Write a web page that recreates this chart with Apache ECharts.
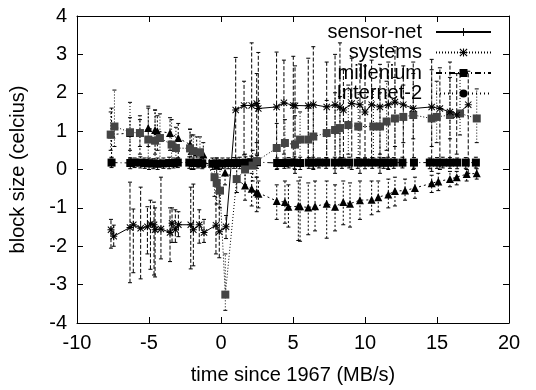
<!DOCTYPE html>
<html><head><meta charset="utf-8">
<script src="https://cdn.jsdelivr.net/npm/echarts@6/dist/echarts.min.js"></script>
<style>html,body{margin:0;padding:0;background:#fff}#c{width:536px;height:390px}</style>
</head><body><div id="c"></div>
<script>
// axis ranges
const xMin = -10, xMax = 20, xStep = 5;
const yMin = -4, yMax = 4, yStep = 1;
const seriesNames = ['sensor-net', 'systems', 'millenium', 'Internet-2'];

// [x, y, low, high]
const sensorNet = [
[-7.64,-1.57,-2.05,-1.30],[-7.45,-1.74,-2.00,-1.45],[-6.32,-1.51,-2.95,-0.33],[-6.09,-1.44,-2.69,-1.03],
[-5.58,-1.53,-2.85,-0.46],[-5.11,-1.49,-2.20,-0.97],[-4.90,-1.42,-2.60,-0.80],[-4.65,-1.44,-2.75,-0.85],
[-4.58,-1.57,-2.80,-1.00],[-4.17,-1.55,-2.33,-0.20],[-3.54,-1.64,-2.40,-1.00],[-3.40,-1.40,-1.90,-1.00],
[-3.17,-1.57,-1.90,-1.05],[-2.96,-1.44,-1.75,-1.10],[-2.10,-1.44,-2.59,-0.46],[-1.92,-1.57,-2.51,-0.38],
[-1.51,-1.44,-1.92,-1.05],[-1.18,-1.64,-1.90,-1.30],[-0.35,-1.45,-2.20,-0.38],[-0.12,-1.62,-2.30,-0.60],
[0.35,-1.49,-1.80,-1.20],[1.02,1.55,0.13,2.92],[1.60,1.67,0.38,2.30],[2.13,1.67,0.13,3.30],
[2.48,1.72,0.40,2.50],[2.59,1.59,0.20,3.05],[3.86,1.63,0.13,3.06],[4.37,1.74,0.40,2.85],
[5.02,1.67,0.20,2.95],[5.14,1.66,-0.10,2.70],[6.06,1.66,0.10,2.90],[6.41,1.69,0.00,3.20],
[7.34,1.63,0.20,2.80],[7.92,1.69,-0.10,3.00],[8.26,1.62,0.10,3.30],[8.50,1.55,0.30,2.60],
[9.08,1.72,0.00,2.90],[9.65,1.69,-0.10,2.75],[10.00,1.50,0.30,2.70],[10.46,1.69,0.10,2.85],
[11.04,1.63,-0.10,2.74],[11.62,1.69,0.00,2.80],[12.08,1.76,0.20,3.20],[12.66,1.69,0.10,2.70],
[13.35,1.59,0.00,2.80],[14.63,1.63,-0.05,2.87],[15.20,1.59,0.00,2.65],[15.90,1.50,0.10,2.80],
[16.37,1.42,0.40,2.50],[17.17,1.69,-0.10,2.56]
];
const systems = [
[-7.66,0.91,0.50,1.50],[-7.40,1.12,0.60,2.07],[-6.32,0.97,0.30,1.75],[-5.63,0.95,0.60,1.40],
[-5.05,0.78,0.10,1.60],[-4.58,0.75,0.20,1.55],[-4.24,0.82,0.10,1.45],[-3.43,0.65,0.10,1.30],
[-3.13,0.56,0.20,1.10],[-2.15,0.55,0.10,1.05],[-1.92,0.48,0.00,0.90],[-1.46,0.45,0.10,0.85],
[-0.45,-0.20,-0.70,0.20],[-0.30,-0.35,-0.90,0.10],[-0.07,-0.55,-1.00,0.00],[0.30,-3.26,-3.67,-2.20],
[1.09,-0.25,-0.60,0.30],[1.67,0.00,-0.40,0.40],[2.20,0.10,-0.30,0.50],[2.48,0.22,-0.20,0.70],
[3.87,0.56,0.00,1.20],[4.44,0.69,0.10,1.30],[5.14,0.65,0.00,1.40],[5.49,0.78,0.20,1.50],
[6.06,0.78,0.10,1.60],[6.41,0.86,0.20,1.70],[7.34,0.95,0.30,1.80],[7.92,1.03,0.20,2.00],
[8.26,1.08,0.30,1.90],[8.84,1.16,0.40,2.20],[9.53,1.12,0.30,2.00],[10.58,1.12,0.30,2.10],
[11.04,1.12,0.40,2.00],[11.50,1.25,0.50,2.30],[12.08,1.33,0.60,2.40],[12.66,1.37,0.70,2.20],
[13.35,1.42,0.80,2.50],[14.63,1.33,0.60,2.60],[14.98,1.37,0.70,2.30],[15.90,1.42,0.80,2.40],
[16.60,1.46,0.90,2.50],[17.76,1.33,0.70,2.10]
];
const millenium = [
[-7.60,0.18,0.05,0.32],[-6.30,0.17,0.02,0.30],[-6.00,0.18,0.05,0.30],[-5.60,0.18,0.04,0.33],
[-5.30,0.17,0.03,0.30],[-5.00,0.16,0.00,0.30],[-4.70,0.16,0.02,0.28],[-4.40,0.15,0.00,0.30],
[-4.00,0.16,0.03,0.30],[-3.60,0.17,0.02,0.32],[-3.30,0.17,0.04,0.30],[-3.00,0.18,0.05,0.30],
[-2.20,0.18,0.03,0.33],[-1.90,0.17,0.02,0.30],[-1.60,0.17,0.04,0.30],[-1.30,0.16,0.02,0.28],
[-0.60,0.15,0.00,0.30],[-0.30,0.16,0.02,0.30],[0.10,0.16,0.03,0.30],[0.50,0.17,0.02,0.30],
[0.90,0.17,0.03,0.31],[1.30,0.17,0.02,0.32],[1.70,0.18,0.03,0.33],[2.10,0.19,0.04,0.35],
[2.50,0.19,0.03,0.36],[3.90,0.17,0.02,0.30],[4.40,0.17,0.03,0.30],[4.70,0.18,0.04,0.31],
[5.10,0.18,0.02,0.33],[5.50,0.17,0.00,0.32],[6.10,0.18,0.03,0.31],[6.40,0.18,0.03,0.32],
[6.80,0.18,0.04,0.30],[7.30,0.18,0.03,0.31],[7.90,0.18,0.02,0.32],[8.40,0.18,0.03,0.31],
[8.90,0.18,0.04,0.32],[9.50,0.18,0.03,0.31],[10.00,0.18,0.02,0.30],[10.50,0.18,0.03,0.31],
[11.00,0.18,0.04,0.32],[11.30,0.18,0.03,0.31],[11.60,0.18,0.02,0.32],[12.00,0.18,0.03,0.31],
[12.60,0.18,0.04,0.32],[13.40,0.18,0.03,0.31],[14.50,0.18,0.02,0.30],[15.00,0.18,0.03,0.31],
[15.40,0.18,0.04,0.32],[15.90,0.18,0.03,0.31],[16.40,0.18,0.02,0.30],[17.00,0.18,0.03,0.31],
[17.70,0.18,0.04,0.32]
];
const internet2 = [
[-7.60,0.91,0.30,1.60],[-6.32,0.95,0.50,1.35],[-5.63,0.95,0.40,1.30],[-5.05,1.08,0.60,1.65],
[-4.58,1.03,0.40,1.55],[-4.42,1.00,0.50,1.40],[-3.54,0.95,0.50,1.35],[-2.97,0.82,0.30,1.20],
[-2.15,0.65,0.20,1.05],[-2.04,0.48,0.00,0.90],[-1.69,0.44,0.10,0.85],[-1.23,0.39,0.05,0.70],
[-0.30,0.10,-0.20,0.30],[0.28,-0.08,-0.40,0.20],[1.09,-0.25,-0.60,0.10],[1.67,-0.42,-0.80,-0.05],
[2.13,-0.50,-0.95,-0.10],[2.48,-0.59,-1.10,-0.20],[2.60,-0.63,-1.00,-0.30],[3.87,-0.82,-1.30,-0.40],
[4.44,-0.85,-1.40,-0.30],[4.68,-0.97,-1.50,-0.40],[5.37,-0.96,-1.85,-0.30],[5.49,-0.96,-1.87,-0.20],
[6.06,-0.99,-1.70,-0.35],[6.53,-0.96,-1.60,-0.30],[7.34,-0.89,-1.79,-0.30],[7.92,-0.97,-1.60,-0.40],
[8.49,-0.85,-1.44,-0.30],[8.96,-0.89,-1.50,-0.35],[9.65,-0.80,-1.30,-0.30],[10.46,-0.79,-1.18,-0.30],
[10.92,-0.72,-1.10,-0.30],[11.62,-0.65,-1.00,-0.25],[12.08,-0.56,-0.95,-0.20],[12.78,-0.55,-0.80,-0.25],
[13.47,-0.48,-0.75,-0.20],[14.63,-0.36,-0.60,-0.15],[15.09,-0.31,-0.55,-0.10],[15.90,-0.25,-0.45,-0.05],
[16.37,-0.20,-0.40,-0.05],[17.06,-0.12,-0.30,0.00],[17.76,-0.10,-0.25,0.02]
];

const FONT = "'Liberation Sans', Arial, Helvetica, sans-serif";
const plusPath = 'path://M0,4.4H10V5.6H0Z M4.4,0H5.6V10H4.4Z';
const starPath = 'path://M0,4.3H10V5.7H0Z M4.3,0H5.7V10H4.3Z M1,0L10,9L9,10L0,1Z M9,0L10,1L1,10L0,9Z';

function errBars(data, dash, color) {
  return {
    type: 'custom', data: data, z: 2, silent: true, clip: false,
    encode: { x: 0, y: [2, 3] },
    renderItem: function (params, api) {
      const x = api.value(0), lo = api.value(2), hi = api.value(3);
      const a = api.coord([x, lo]), b = api.coord([x, hi]);
      const cap = 2;
      return { type: 'group', children: [
        { type: 'line', shape: { x1: a[0], y1: a[1], x2: b[0], y2: b[1] }, style: { stroke: color, lineWidth: 1, lineDash: dash } },
        { type: 'line', shape: { x1: a[0] - cap, y1: a[1], x2: a[0] + cap, y2: a[1] }, style: { stroke: color, lineWidth: 1 } },
        { type: 'line', shape: { x1: b[0] - cap, y1: b[1], x2: b[0] + cap, y2: b[1] }, style: { stroke: color, lineWidth: 1 } }
      ]};
    }
  };
}
function lineSeries(name, data, symbol, size, dash, color) {
  return {
    type: 'line', name: name, data: data.map(d => [d[0], d[1]]), z: 3,
    symbol: symbol, symbolSize: size, showSymbol: true, showAllSymbol: true,
    lineStyle: { color: '#000', width: 1, type: dash },
    itemStyle: { color: color, borderWidth: 0 },
    emphasis: { disabled: true }
  };
}
function legendSeries(name, symbol, dash) {
  return {
    type: 'line', name: name, data: [], symbol: symbol, symbolSize: 8,
    lineStyle: { color: '#000', width: 1, type: dash },
    itemStyle: { color: '#000' }
  };
}

const axisCommon = {
  axisLine: { show: true, onZero: false, lineStyle: { color: '#000', width: 1 } },
  axisTick: { show: true, inside: true, length: 6, lineStyle: { color: '#000', width: 1 } },
  splitLine: { show: false }
};

const chart = echarts.init(document.getElementById('c'), null, { renderer: 'canvas' });
chart.setOption({
  animation: false,
  backgroundColor: '#fff',
  textStyle: { fontFamily: FONT },
  grid: { left: 77, right: 27, top: 16, bottom: 62 },
  legend: {
    data: seriesNames, orient: 'vertical', align: 'right',
    right: 39, top: 17, itemWidth: 55, itemHeight: 10, itemGap: 0.5,
    selectedMode: false,
    textStyle: { fontSize: 20, color: '#000', fontFamily: FONT, lineHeight: 20, padding: [0, 9, 0, 0] }
  },
  xAxis: [
    Object.assign({ type: 'value', min: xMin, max: xMax, interval: xStep, position: 'bottom',
      name: 'time since 1967 (MB/s)', nameLocation: 'middle', nameGap: 42,
      nameTextStyle: { fontSize: 20, color: '#000', fontFamily: FONT },
      axisLabel: { fontSize: 20, color: '#000', margin: 10, fontFamily: FONT } }, axisCommon),
    Object.assign({ type: 'value', min: xMin, max: xMax, interval: xStep, position: 'top',
      axisLabel: { show: false } }, axisCommon)
  ],
  yAxis: [
    Object.assign({ type: 'value', min: yMin, max: yMax, interval: yStep, position: 'left',
      name: 'block size (celcius)', nameLocation: 'middle', nameGap: 49, nameRotate: 90,
      nameTextStyle: { fontSize: 20, color: '#000', fontFamily: FONT },
      axisLabel: { fontSize: 20, color: '#000', margin: 10, fontFamily: FONT } }, axisCommon),
    Object.assign({ type: 'value', min: yMin, max: yMax, interval: yStep, position: 'right',
      axisLabel: { show: false } }, axisCommon)
  ],
  series: [
    errBars(millenium, [5, 2, 1, 2], '#000'),
    errBars(internet2, [2, 2], '#000'),
    errBars(systems, [1, 2], '#000'),
    errBars(sensorNet, [4, 2], '#000'),
    lineSeries('millenium data', millenium, 'rect', 8, [6, 3, 1, 3], '#000'),
    lineSeries('Internet-2 data', internet2, 'triangle', 8, [2, 3], '#000'),
    lineSeries('systems data', systems, 'rect', 8, [1, 2], '#444'),
    lineSeries('sensor-net data', sensorNet, starPath, 7, 'solid', '#000'),
    legendSeries('sensor-net', plusPath, 'solid'),
    legendSeries('systems', starPath, [1, 2]),
    legendSeries('millenium', 'rect', [6, 3, 1, 3]),
    legendSeries('Internet-2', 'circle', [1, 3])
  ]
});
</script></body></html>
